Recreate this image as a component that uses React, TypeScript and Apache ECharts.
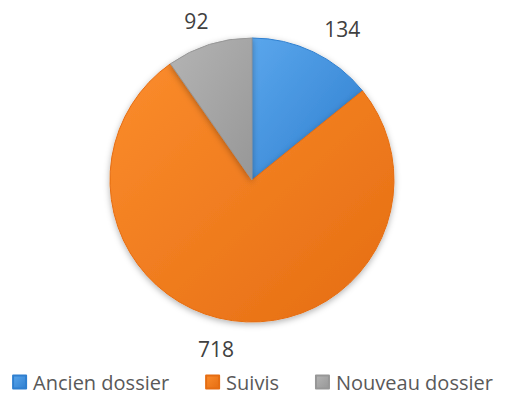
import React, { useEffect, useRef } from "react";
import * as echarts from "echarts";

const categories = ["Ancien dossier", "Suivis", "Nouveau dossier"];
const values = [134, 718, 92];
const colors = [
  ["#5aa6ec", "#2f7fcf"],
  ["#fb8c2c", "#e56d12"],
  ["#b4b4b4", "#979797"],
];

const CENTER = [252, 180];
const RADIUS = 142;
const LABEL_R = 158;

export default function App() {
  const ref = useRef<HTMLDivElement>(null);
  useEffect(() => {
    document.body.style.margin = "0";
    const chart = echarts.init(ref.current!, null, { renderer: "svg" });
    const total = values.reduce((a, b) => a + b, 0);
    const midAngles = values.map((v, i) => {
      const before = values.slice(0, i).reduce((a, b) => a + b, 0);
      return ((before + v / 2) / total) * Math.PI * 2;
    });
    chart.setOption({
      animation: false,
      backgroundColor: "#ffffff",
      legend: {
        bottom: 14,
        left: "center",
        icon: "rect",
        itemWidth: 13,
        itemHeight: 13,
        itemGap: 36,
        textStyle: {
          fontSize: 20,
          color: "#595959",
          fontFamily: "Open Sans",
          padding: [0, 0, 0, 2],
        },
        data: categories,
      },
      series: [
        {
          type: "pie",
          center: CENTER,
          radius: RADIUS,
          startAngle: 90,
          clockwise: true,
          label: {
            show: true,
            position: "outside",
            fontSize: 21,
            color: "#404040",
            fontFamily: "Open Sans",
            formatter: "{c}",
          },
          labelLine: { show: false, length: 18, length2: 4 },
          labelLayout: (params: any) => {
            const a = midAngles[params.dataIndex];
            const dx = Math.sin(a);
            const dy = -Math.cos(a);
            const w = params.labelRect.width;
            const h = params.labelRect.height;
            const px = CENTER[0] + LABEL_R * dx;
            const py = CENTER[1] + LABEL_R * dy;
            return {
              x: px + Math.sign(dx) * w / 2 + 4,
              y: py + Math.sign(dy) * h / 2 + 2,
              align: "center",
              verticalAlign: "middle",
            };
          },
          itemStyle: {
            shadowBlur: 6,
            shadowColor: "rgba(0,0,0,0.3)",
            shadowOffsetY: 2,
          },
          data: categories.map((name, i) => ({
            name,
            value: values[i],
            itemStyle: {
              color: {
                type: "linear",
                x: 0,
                y: 0,
                x2: 1,
                y2: 1,
                colorStops: [
                  { offset: 0, color: colors[i][0] },
                  { offset: 1, color: colors[i][1] },
                ],
              },
              borderColor: colors[i][1],
              borderWidth: 1,
            },
          })),
        },
      ],
    });
    return () => chart.dispose();
  }, []);
  return (
    <div
      ref={ref}
      style={{ position: "absolute", left: 0, top: 0, width: 505, height: 411 }}
    />
  );
}
